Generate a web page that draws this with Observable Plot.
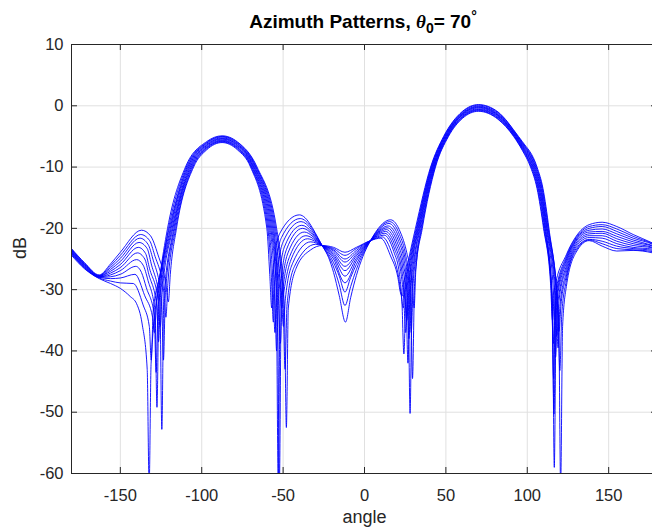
<!DOCTYPE html>
<html>
<head>
<meta charset="utf-8">
<script src="https://cdn.jsdelivr.net/npm/d3@7"></script>
<script src="https://cdn.jsdelivr.net/npm/@observablehq/plot@0.6"></script>
<style>
  html, body { margin: 0; padding: 0; background: #fff; overflow: hidden; }
  #chart { width: 652px; height: 529px; overflow: hidden; position: relative; }
</style>
</head>
<body>
<div id="chart"></div>
<script>
// ---- data: [angle (deg), level (dB)] ----
const curve0 = [[-180,-23.3],[-172,-25.6],[-163,-27.6],[-156,-25.8],[-150,-23.9],
 [-137,-20.3],[-131.5,-21.2],[-127,-24.2],[-122,-29.2],[-120.5,-32],[-119.3,-27.5],
 [-115.5,-20],[-105,-10],[-97,-7.2],[-87.5,-6.0],[-78,-7.2],[-70,-10],[-60,-20],
 [-58.2,-27.5],[-57,-33],[-55.8,-26.5],[-52,-20.8],[-40,-17.8],
 [-26,-22.8],[-22,-24.8],[-19,-27.2],[-15.5,-31],[-11.7,-35.3],[-8.5,-31.3],[-5,-27.7],[-1,-24.6],[3.7,-22],
 [16,-18.6],[22,-20.6],[26,-24.0],[29.3,-29.0],[30.5,-33],[31.5,-27],
 [35.5,-20],[43.6,-10],[51.6,-5],[60,-2.1],[70,-0.9],[82,-2.2],[91.6,-5],[97,-7.3],[102,-10],[106,-13.5],[110,-20],
 [114.3,-29],[115.5,-35],[116.7,-30],
 [124,-24.3],[130,-21.3],[138,-19.4],[146,-19.0],[155,-19.7],[165,-21.0],[177,-22.4],[180,-22.8]];

const curve1 = [[-180,-23.4],[-172,-25.7],[-163,-27.7],[-156,-26.1],[-150,-24.4],
 [-137.5,-21.0],[-132,-22.0],[-129,-24.3],[-123.2,-30.5],[-122,-34.5],[-120.8,-29],
 [-116,-20],[-105.5,-10],[-97,-7.05],[-87.5,-5.9],[-78,-7.05],[-69.6,-10],[-59.4,-20],
 [-57.2,-28],[-56,-35.3],[-54.8,-27.5],[-51,-21.5],[-39.5,-18.4],
 [-26,-22.8],[-19,-26.3],[-15.5,-29.2],[-12,-32.6],[-8.5,-29.5],[-5,-26.7],[3.7,-22],
 [15.5,-18.9],[21.5,-21.0],[25.5,-24.6],[28.3,-30.0],[29.5,-44.5],[30.7,-29.5],[32,-25.2],
 [35.1,-20],[43.3,-10],[51.3,-5],[60,-1.95],[70,-0.8],[82,-2.1],[91.9,-5],[97,-7.15],[102.4,-10],[106.35,-13.5],[110.3,-20],
 [114.8,-30],[116,-38.8],[117.2,-31],
 [124,-24.6],[130,-21.5],[138,-19.7],[146,-19.4],[155,-20.1],[165,-21.3],[177,-22.5],[180,-22.9]];

const curve2 = [[-180,-23.5],[-172,-25.8],[-163,-27.7],[-156,-26.4],[-150,-24.9],
 [-138,-21.6],[-133,-22.6],[-130,-25.0],[-124.7,-31.5],[-123.5,-41.5],[-122.3,-30.5],
 [-116.6,-20],[-106,-10],[-97,-6.9],[-87.5,-5.8],[-78,-6.9],[-69.2,-10],[-58.8,-20],
 [-56.2,-29],[-55,-37],[-53.8,-28.5],[-50,-22.2],[-39,-18.9],
 [-26,-22.8],[-19,-25.6],[-15.5,-27.8],[-12,-30.4],[-8.5,-28.0],[-5,-25.9],[3.7,-22],
 [15,-19.2],[21,-21.4],[25,-25.0],[27.5,-29.5],[28.7,-37],[29.9,-29],[31.4,-25.2],
 [34.7,-20],[43.0,-10],[51.0,-5],[60,-1.85],[70,-0.7],[82,-1.95],[92.2,-5],[97,-7.0],[102.8,-10],[106.75,-13.5],[110.7,-20],
 [115,-30.5],[116.2,-44.5],[117.4,-31.5],
 [124,-24.9],[130,-21.7],[138,-20.0],[146,-19.7],[155,-20.5],[165,-21.6],[177,-22.6],[180,-23.0]];

const curve3 = [[-180,-23.6],[-172,-25.9],[-163,-27.8],[-156,-26.7],[-150,-25.4],
 [-138.5,-22.3],[-133.5,-23.3],[-131,-25.8],[-125.7,-32],[-124.5,-52.8],[-123.3,-31.5],
 [-117.1,-20],[-106.5,-10],[-97,-6.8],[-87.5,-5.7],[-78,-6.8],[-68.8,-10],[-58.2,-20],
 [-55.2,-29.5],[-54,-40],[-52.8,-29.5],[-49,-22.9],[-38.5,-19.5],
 [-26,-22.8],[-19,-25.0],[-12,-28.9],[-5,-25.3],[3.7,-22],
 [14.5,-19.6],[20.5,-21.8],[24.5,-25.5],[26.8,-30.5],[28,-50.2],[29.2,-30],[30.8,-25.2],
 [34.2,-20],[42.7,-10],[50.7,-5],[60,-1.75],[70,-0.6],[82,-1.85],[92.5,-5],[97,-6.85],[103.2,-10],[107.1,-13.5],[111,-20],
 [115.2,-31],[116.4,-50.3],[117.6,-32],
 [124,-25.2],[130,-21.9],[138,-20.3],[146,-20.1],[155,-20.9],[165,-21.9],[177,-22.8],[180,-23.1]];

const curve4 = [[-180,-23.7],[-172,-26.0],[-163,-27.8],[-156,-27.0],[-150,-25.9],
 [-139,-23.1],[-134.5,-24.1],[-132,-26.6],[-126.7,-31.8],[-125.5,-36],[-124.3,-30.5],
 [-117.7,-20],[-107,-10],[-97,-6.65],[-87.5,-5.6],[-78,-6.65],[-68.4,-10],[-57.6,-20],
 [-54.2,-30],[-53,-62],[-51.8,-30.5],[-48,-23.5],[-38,-20.0],
 [-26,-22.8],[-19,-24.6],[-12,-27.8],[-5,-24.9],[3.7,-22],
 [14,-19.9],[20,-22.2],[24,-26.0],[26.1,-30.5],[27.3,-38],[28.5,-30],[30.3,-25.2],
 [33.8,-20],[42.4,-10],[50.4,-5],[60,-1.6],[70,-0.5],[82,-1.7],[92.8,-5],[97,-6.7],[103.6,-10],[107.45,-13.5],[111.3,-20],
 [115.4,-31.5],[116.6,-59],[117.8,-32.5],
 [124,-25.6],[130,-22.1],[138,-20.6],[146,-20.5],[155,-21.3],[165,-22.2],[177,-22.9],[180,-23.2]];

const curve5 = [[-180,-23.8],[-172,-26.1],[-163,-27.9],[-156,-27.3],[-150,-26.4],
 [-139.5,-24.0],[-135,-25.0],[-132.5,-27.5],[-127.7,-32.5],[-126.5,-38.5],[-125.3,-31],
 [-118.2,-20],[-107.5,-10],[-97,-6.5],[-87.5,-5.45],[-78,-6.5],[-68,-10],[-57,-20],
 [-53.5,-30.5],[-52.3,-62],[-51.1,-31],[-47,-24],[-37,-20.6],
 [-26,-22.8],[-19,-24.3],[-12,-26.9],[-5,-24.5],[3.7,-22],
 [13.5,-20.2],[19.5,-22.6],[23.5,-26.5],[25.5,-31],[26.7,-42],[27.9,-30.5],[29.7,-25.2],
 [33.4,-20],[42.1,-10],[50.1,-5],[60,-1.5],[70,-0.35],[82,-1.6],[93.1,-5],[97,-6.55],[104,-10],[107.85,-13.5],[111.7,-20],
 [116.2,-31],[117.4,-41],[118.6,-32.5],
 [124,-26.1],[130,-22.4],[138,-20.9],[146,-20.8],[155,-21.7],[165,-22.5],[177,-23.1],[180,-23.4]];

const curve6 = [[-180,-23.9],[-172,-26.2],[-163,-27.9],[-156,-27.6],[-150,-26.9],
 [-140,-25.1],[-136,-26.0],[-133,-28.5],[-128.7,-33.5],[-127.5,-49.2],[-126.3,-32],
 [-118.8,-20],[-108,-10],[-97,-6.4],[-87.5,-5.35],[-78,-6.4],[-67.6,-10],[-56.4,-20],
 [-52.9,-31],[-51.7,-38.8],[-50.5,-31],[-46,-24.6],[-36,-21.2],
 [-26,-22.8],[-19,-24.0],[-12,-26.2],[-5,-24.2],[3.7,-22],
 [13,-20.5],[19,-23.0],[23,-27.0],[24.8,-31],[26,-35],[27.2,-30],[29.2,-25.2],
 [33,-20],[41.8,-10],[49.8,-5],[60,-1.4],[70,-0.25],[82,-1.5],[93.4,-5],[97,-6.4],[104.4,-10],[108.2,-13.5],[112,-20],
 [117,-31],[118.2,-37.5],[119.4,-32],
 [124,-26.6],[130,-22.7],[138,-21.2],[146,-21.2],[155,-22.1],[165,-22.8],[177,-23.2],[180,-23.5]];

const curve7 = [[-180,-24.0],[-172,-26.3],[-163,-28.0],[-156,-27.9],[-150,-27.5],
 [-140.5,-26.2],[-137,-27.2],[-134,-29.7],[-129.2,-34],[-128,-43.5],[-126.8,-32],
 [-119.3,-20],[-108.5,-10],[-97,-6.25],[-87.5,-5.25],[-78,-6.25],[-67.2,-10],[-55.8,-20],
 [-52,-30],[-50.8,-33],[-49.6,-30.5],[-45,-25.0],[-35,-21.7],
 [-26,-22.8],[-19,-23.7],[-12,-25.5],[-5,-23.9],[3.7,-22],
 [12.5,-20.8],[18.5,-23.4],[22.5,-27.5],[24.1,-31.5],[25.3,-37],[26.5,-30.5],[28.7,-25.2],
 [32.6,-20],[41.5,-10],[49.5,-5],[60,-1.3],[70,-0.15],[82,-1.4],[93.7,-5],[97,-6.25],[104.8,-10],[108.55,-13.5],[112.3,-20],
 [117.7,-31.5],[118.9,-39.5],[120.1,-32.5],
 [124,-27.2],[130,-23.0],[138,-21.5],[146,-21.6],[155,-22.5],[165,-23.1],[177,-23.4],[180,-23.7]];

const curve8 = [[-180,-24.1],[-172,-26.4],[-163,-28.0],[-156,-28.2],[-150,-28.1],
 [-141,-27.5],[-135,-31],[-130.2,-34.5],[-129,-37],[-127.8,-32],[-124.5,-26],
 [-119.9,-20],[-109,-10],[-97,-6.1],[-87.5,-5.1],[-78,-6.15],[-66.8,-10],[-55.2,-20],
 [-51,-31],[-49.8,-36],[-48.6,-31.5],[-44,-25.6],[-33,-22.2],
 [-26,-22.8],[-19,-23.5],[-12,-25.0],[-5,-23.6],[3.7,-22],
 [12,-21.1],[18,-23.8],[21.5,-27.5],[23,-32],[24.2,-40.5],[25.4,-31],[28.2,-25.2],
 [32.2,-20],[41.2,-10],[49.2,-5],[60,-1.2],[70,-0.05],[82,-1.25],[94.0,-5],[97,-6.1],[105.2,-10],[108.95,-13.5],[112.7,-20],
 [118.3,-31.5],[119.5,-36.8],[120.7,-32.5],
 [124,-27.8],[130,-23.3],[138,-21.8],[146,-22.1],[155,-22.9],[165,-23.3],[177,-23.6],[180,-23.9]];

const curve9 = [[-180,-24.2],[-172,-26.5],[-163,-28.1],[-156,-28.6],[-150,-28.9],
 [-142,-29.0],[-136,-32.5],[-132.2,-36],[-131,-41.5],[-129.8,-33.5],[-125,-27],
 [-120.4,-20],[-109.5,-10],[-97,-6.0],[-87.5,-5.0],[-78,-6.0],[-66.4,-10],[-54.6,-20],
 [-50,-32],[-48.8,-43],[-47.6,-32.5],[-43,-26.2],[-30,-22.6],
 [-26,-22.8],[-19,-23.3],[-12,-24.4],[-5,-23.3],[3.7,-22],
 [11,-21.4],[17,-24.2],[21,-28.0],[22.6,-31],[23.8,-33],[25,-29.5],[27.6,-25.2],
 [31.8,-20],[40.9,-10],[48.9,-5],[60,-1.05],[70,0.1],[82,-1.1],[94.3,-5],[97,-6.0],[105.6,-10],[109.3,-13.5],[113,-20],
 [118.8,-33],[120,-43.2],[121.2,-34],
 [124,-28.5],[130,-23.6],[138,-21.9],[146,-22.5],[155,-23.3],[165,-23.5],[177,-23.8],[180,-24.0]];

const curve10 = [[-180,-24.4],[-172,-26.6],[-163,-28.2],[-156,-29.0],[-150,-29.8],
 [-144,-31.1],[-140,-32.3],[-136.6,-35.6],[-133.5,-43],[-132.3,-62],[-131.1,-42],[-126,-28.5],
 [-121,-20],[-110,-10],[-97,-5.85],[-87.5,-4.9],[-78,-5.9],[-66,-10],[-54,-20],
 [-49.2,-33],[-48,-52.5],[-46.8,-33],[-42,-26.5],[-33,-23.5],
 [-26,-22.8],[-19,-23.1],[-12,-23.9],[-5,-23.1],[3.7,-22],
 [10,-21.6],[16,-24.5],[20.5,-28.0],[22.1,-30.5],[23.3,-31],[24.5,-28.5],[27,-25.2],
 [31.3,-20],[40.6,-10],[48.6,-5],[60,-0.95],[70,0.2],[82,-1.0],[94.6,-5],[97,-5.85],[106,-10],[109.65,-13.5],[113.3,-20],
 [119.3,-35],[120.5,-62],[121.7,-36],
 [124,-29.5],[130,-23.9],[138,-22.0],[146,-22.9],[155,-23.7],[165,-23.6],[177,-24.0],[180,-24.2]];

const curves = [curve0, curve1, curve2, curve3, curve4, curve5, curve6, curve7, curve8, curve9, curve10];

const xTicks = [-150, -100, -50, 0, 50, 100, 150];
const yTicks = [-60, -50, -40, -30, -20, -10, 0, 10];
const xDomain = [-180, 180];
const yDomain = [-60, 10];
const xLabel = "angle";
const yLabel = "dB";
const titleMain = "Azimuth Patterns, ";
const titleSymbol = "θ";
const titleSub = "0";
const titleRest = "= 70";
const titleDeg = "°";

// ---- build table ----
const rows = curves.flatMap((c, k) => c.map(([angle, dB]) => ({k, angle, dB})));

const FONT = "'Liberation Sans', Arial, Helvetica, sans-serif";
const AX = "#262626";
const GRID = "#e0e0e0";
const TICK = 6;
const frameW = 652 - 71 + 5;
const frameH = 529 - 44 - 56;

const chart = Plot.plot({
  width: 652,
  height: 529,
  marginLeft: 71,
  marginRight: -5,
  marginTop: 44,
  marginBottom: 56,
  x: {domain: xDomain, ticks: xTicks, label: null},
  y: {domain: yDomain, ticks: yTicks, label: null},
  style: {fontFamily: FONT, fontSize: "16.5px", color: AX, background: "#fff", overflow: "hidden"},
  marks: [
    Plot.gridX(xTicks, {stroke: GRID, strokeOpacity: 1, strokeWidth: 1}),
    Plot.gridY(yTicks, {stroke: GRID, strokeOpacity: 1, strokeWidth: 1}),
    Plot.line(rows, {x: "angle", y: "dB", z: "k", stroke: "#0000ff", strokeWidth: 0.9,
                     curve: "monotone-x", clip: true}),
    Plot.frame({stroke: AX, strokeWidth: 1}),
    Plot.tickX(xTicks, {x: d => d, stroke: AX, insetTop: frameH - TICK}),
    Plot.tickX(xTicks, {x: d => d, stroke: AX, insetBottom: frameH - TICK}),
    Plot.tickY(yTicks, {y: d => d, stroke: AX, insetRight: frameW - TICK}),
    Plot.tickY(yTicks, {y: d => d, stroke: AX, insetLeft: frameW - TICK}),
    Plot.axisX(xTicks, {tickSize: 0, tickPadding: 16, tickFormat: d => String(d),
                        fontSize: 16.5, fill: AX, label: null}),
    Plot.axisY(yTicks, {tickSize: 0, tickPadding: 8, tickFormat: d => String(d),
                        fontSize: 16.5, fill: AX, label: null}),
    Plot.text([xLabel], {text: d => d, frameAnchor: "bottom", dy: 49, fontSize: 18, fill: AX}),
    Plot.text([yLabel], {text: d => d, frameAnchor: "left", dx: -51, rotate: -90, fontSize: 18, fill: AX})
  ]
});

document.getElementById("chart").appendChild(chart);

// title with italic theta, subscript and degree sign
const svg = d3.select(chart);
const t = svg.append("text")
  .attr("x", 363).attr("y", 28)
  .attr("text-anchor", "middle")
  .attr("font-family", FONT)
  .attr("font-size", 19)
  .attr("font-weight", "bold")
  .attr("fill", "#000");
t.append("tspan").text(titleMain);
t.append("tspan").attr("font-family", "'Liberation Serif', 'DejaVu Serif', serif")
  .attr("font-style", "italic").text(titleSymbol);
t.append("tspan").attr("font-size", 14).attr("dy", 5).text(titleSub);
t.append("tspan").attr("dy", -5).text(titleRest);
t.append("tspan").attr("font-size", 14).attr("dy", -7).text(titleDeg);
</script>
</body>
</html>
